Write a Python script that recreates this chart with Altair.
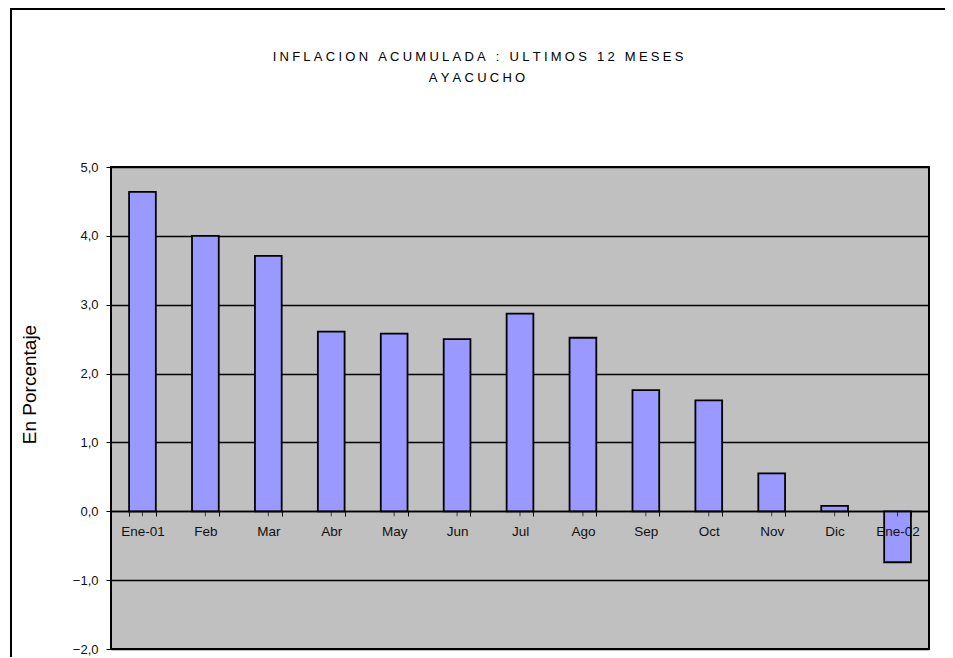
import altair as alt
import pandas as pd

months = ["Ene-01", "Feb", "Mar", "Abr", "May", "Jun", "Jul", "Ago", "Sep", "Oct", "Nov", "Dic", "Ene-02"]
values = [4.64, 4.00, 3.71, 2.61, 2.58, 2.50, 2.87, 2.52, 1.76, 1.61, 0.55, 0.08, -0.74]
y_ticks = [-2, -1, 0, 1, 2, 3, 4, 5]
title_line1 = "INFLACION ACUMULADA : ULTIMOS 12 MESES"
title_line2 = "AYACUCHO"
y_title = "En Porcentaje"

FONT = "Liberation Sans, Arial, sans-serif"
GAP = "\u2005"


def spaced(s):
    # wide character spacing, as in the original chart title
    return GAP.join(list(s))


df = pd.DataFrame({"mes": months, "valor": values})
one_row = pd.DataFrame({"k": [0]})

x_enc = alt.X(
    "mes:N",
    sort=months,
    scale=alt.Scale(paddingInner=0.575, paddingOuter=0.2875),
    axis=alt.Axis(
        title=None,
        orient="bottom",
        offset=-138,
        labelAngle=0,
        labelFont=FONT,
        labelFontSize=13.5,
        labelColor="#111111",
        labelPadding=8,
        tickBand="extent",
        tickSize=5,
        tickColor="black",
        tickWidth=1,
        domainColor="black",
        domainWidth=1.5,
        grid=False,
        zindex=1,
    ),
)

y_enc = alt.Y(
    "valor:Q",
    scale=alt.Scale(domain=[-2, 5], nice=False, zero=False),
    axis=alt.Axis(
        title=y_title,
        values=y_ticks,
        labelExpr="replace(format(datum.value, '.1f'), '.', ',')",
        labelFont=FONT,
        labelFontSize=13,
        labelColor="#111111",
        labelPadding=8,
        tickSize=5,
        tickColor="black",
        domain=False,
        grid=True,
        gridColor="black",
        gridWidth=1.3,
        titleFont=FONT,
        titleFontSize=19,
        titleFontWeight="normal",
        titleColor="black",
        titleAngle=270,
        titleAlign="center",
        titleBaseline="middle",
        titleX=-82,
        titleY=217,
    ),
)

frame_top = alt.Chart(one_row).mark_rule(color="black", strokeWidth=2).encode(
    x=alt.value(-101), x2=alt.value(834), y=alt.value(-158)
)
frame_left = alt.Chart(one_row).mark_rule(color="black", strokeWidth=2).encode(
    x=alt.value(-100), y=alt.value(-159), y2=alt.value(490)
)

title1 = alt.Chart(one_row).mark_text(
    text=spaced(title_line1), font=FONT, fontSize=13, color="black",
    align="center", baseline="middle"
).encode(x=alt.value(367), y=alt.value(-110))

title2 = alt.Chart(one_row).mark_text(
    text=spaced(title_line2), font=FONT, fontSize=13, color="black",
    align="center", baseline="middle"
).encode(x=alt.value(366), y=alt.value(-89))

bars = alt.Chart(df).mark_bar(
    fill="#9999FF", stroke="black", strokeWidth=1.8
).encode(x=x_enc, y=y_enc)

center_ticks = alt.Chart(df).mark_tick(
    orient="vertical", size=5, thickness=1, color="black", yOffset=2.5
).encode(
    x=alt.X("mes:N", sort=months),
    y=alt.datum(0),
)

chart = alt.layer(frame_top, frame_left, title1, title2, bars, center_ticks).properties(
    width=818,
    height=482,
    padding={"left": 103, "top": 159, "right": 16, "bottom": 8},
    autosize=alt.AutoSizeParams(type="none"),
    background="white",
).configure_view(
    fill="#C0C0C0", stroke="black", strokeWidth=2
)

chart.save("out.html", embed_options={"renderer": "svg", "actions": False})
